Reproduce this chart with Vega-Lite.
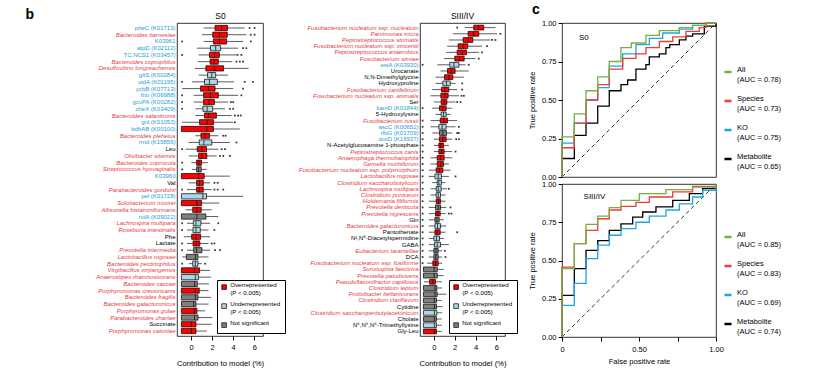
{
  "$schema": "https://vega.github.io/schema/vega-lite/v6.json",
  "background": "white",
  "padding": {"left": 24, "top": 2, "right": 5, "bottom": 5},
  "autosize": {"type": "pad"},
  "config": {
    "font": "Liberation Sans",
    "view": {"stroke": "black", "strokeWidth": 0.8},
    "axis": {"grid": false, "domain": false, "labelColor": "black", "tickColor": "black", "titleColor": "black", "titleFontWeight": "normal"},
    "legend": {"labelColor": "black"},
    "title": {"color": "black"}
  },
  "datasets": {
    "s0": [
      {"name":"pheC (K01713)","lo":1.19,"q1":2.28,"med":2.91,"q3":3.47,"hi":5.09,"sig":"Over","o1":5.56,"o2":6.03},
      {"name":"Bacteroides barnesiae","lo":1.03,"q1":2.06,"med":2.69,"q3":3.44,"hi":5.25,"sig":"Over","o1":5.66,"o2":6.03},
      {"name":"K03961","lo":1.19,"q1":2.13,"med":2.69,"q3":3.38,"hi":4.94,"sig":"Over","ol":-0.84,"o1":5.66},
      {"name":"atpD (K02112)","lo":0.56,"q1":1.84,"med":2.34,"q3":2.81,"hi":4.47,"sig":"Under","o1":4.94,"o2":5.25},
      {"name":"TC.NCS1 (K03457)","lo":0.72,"q1":1.75,"med":2.22,"q3":2.69,"hi":4.31,"sig":"Over","ol":-0.84,"o1":4.41,"o2":4.78},
      {"name":"Bacteroides coprophilus","lo":0.66,"q1":1.81,"med":2.19,"q3":2.59,"hi":3.91,"sig":"Over","o1":4.31,"o2":4.63,"o3":4.94},
      {"name":"Desulfovibrio longreachensis","lo":0.34,"q1":1.41,"med":2.22,"q3":3.09,"hi":5.47,"sig":"Over"},
      {"name":"gltS (K00284)","lo":0.72,"q1":1.56,"med":1.97,"q3":2.34,"hi":3.53,"sig":"Under"},
      {"name":"uidA (K01195)","lo":0.09,"q1":1.28,"med":1.75,"q3":2.5,"hi":4.09,"sig":"Under","ol":-0.84,"o1":5.09,"o2":5.88},
      {"name":"ycbB (K07713)","lo":-0.84,"q1":0.91,"med":1.66,"q3":2.28,"hi":4.0,"sig":"Over","o1":4.94},
      {"name":"fno (K06988)","lo":0.25,"q1":1.19,"med":1.84,"q3":2.59,"hi":4.47,"sig":"Over","ol":-0.84,"o1":4.78},
      {"name":"gcvPA (K00282)","lo":0.25,"q1":1.19,"med":1.72,"q3":2.22,"hi":3.53,"sig":"Over","ol":-0.84,"o1":3.78,"o2":4.0},
      {"name":"cheX (K03409)","lo":0.41,"q1":1.13,"med":1.53,"q3":2.06,"hi":3.22,"sig":"Under","ol":-0.84,"o1":3.69,"o2":4.0},
      {"name":"Bacteroides salanitronis","lo":0.41,"q1":1.28,"med":1.66,"q3":2.41,"hi":3.84,"sig":"Over","o1":4.16,"o2":4.47,"o3":4.72},
      {"name":"gnl (K01053)","lo":-0.84,"q1":0.81,"med":1.53,"q3":2.13,"hi":4.0,"sig":"Over","o1":4.16},
      {"name":"bdhAB (K00100)","lo":-0.91,"q1":-0.91,"med":1.5,"q3":2.13,"hi":4.63,"sig":"Over"},
      {"name":"Bacteroides plebeius","lo":0.41,"q1":0.94,"med":1.34,"q3":1.75,"hi":2.59,"sig":"Over","o1":3.06,"o2":3.28},
      {"name":"rmd (K15856)","lo":-0.22,"q1":0.78,"med":1.22,"q3":1.97,"hi":3.69,"sig":"Under","o1":4.31},
      {"name":"Leu","lo":-0.53,"q1":0.59,"med":1.03,"q3":1.47,"hi":2.59,"sig":"Over","ol":-0.84,"o1":2.91,"o2":3.22},
      {"name":"Olivibacter sitiensis","lo":-0.22,"q1":0.72,"med":1.03,"q3":1.5,"hi":2.44,"sig":"Over","o1":2.75,"o2":3.06,"o3":3.69},
      {"name":"Bacteroides coprocola","lo":0.03,"q1":0.53,"med":0.75,"q3":1.0,"hi":1.59,"sig":"Over","ol":-0.84},
      {"name":"Streptococcus hyovaginalis","lo":0.09,"q1":0.53,"med":0.72,"q3":0.97,"hi":1.5,"sig":"NS","ol":-0.84},
      {"name":"K03960","lo":-0.91,"q1":-0.91,"med":0.72,"q3":1.25,"hi":3.69,"sig":"Over"},
      {"name":"Val","lo":-0.22,"q1":0.53,"med":0.81,"q3":1.16,"hi":1.81,"sig":"Over","o1":2.22,"o2":2.53},
      {"name":"Parabacteroides gordonii","lo":-0.38,"q1":0.53,"med":0.78,"q3":1.16,"hi":1.97,"sig":"Over","ol":-0.84,"o1":2.22,"o2":2.53,"o3":3.06},
      {"name":"pel (K01728)","lo":-0.91,"q1":-0.91,"med":1.13,"q3":1.47,"hi":4.94,"sig":"Under"},
      {"name":"Solobacterium moorei","lo":-0.91,"q1":-0.91,"med":0.56,"q3":1.0,"hi":2.69,"sig":"Over"},
      {"name":"Allisonella histaminiformans","lo":-0.53,"q1":0.16,"med":0.56,"q3":0.97,"hi":1.97,"sig":"Over"},
      {"name":"ridA (K09022)","lo":-0.91,"q1":-0.91,"med":0.56,"q3":1.41,"hi":2.59,"sig":"NS"},
      {"name":"Lachnospira multipara","lo":-0.38,"q1":0.22,"med":0.47,"q3":0.94,"hi":1.81,"sig":"Under","ol":-0.84,"o1":2.59},
      {"name":"Roseburia intestinalis","lo":-0.38,"q1":0.19,"med":0.47,"q3":0.88,"hi":1.66,"sig":"Under","ol":-0.84,"o1":2.22},
      {"name":"Phe","lo":-0.69,"q1":0.06,"med":0.47,"q3":0.91,"hi":1.81,"sig":"Over"},
      {"name":"Lactate","lo":-0.38,"q1":0.19,"med":0.5,"q3":0.84,"hi":1.66,"sig":"Over","ol":-0.84,"o1":1.97,"o2":2.22},
      {"name":"Prevotella intermedia","lo":-0.38,"q1":0.25,"med":0.53,"q3":1.03,"hi":1.81,"sig":"NS","ol":-0.84,"o1":2.28,"o2":2.75},
      {"name":"Lactobacillus rogosae","lo":-0.84,"q1":-0.44,"med":0.41,"q3":0.66,"hi":1.66,"sig":"NS"},
      {"name":"Bacteroides pectinophilus","lo":-0.22,"q1":0.16,"med":0.41,"q3":0.66,"hi":1.03,"sig":"Under","ol":-0.84,"o1":1.34},
      {"name":"Virgibacillus xinjiangensis","lo":-0.91,"q1":-0.91,"med":0.34,"q3":0.81,"hi":1.81,"sig":"Over"},
      {"name":"Anaerostipes rhamnosivorans","lo":-0.91,"q1":-0.91,"med":0.41,"q3":0.7,"hi":1.9,"sig":"Under"},
      {"name":"Bacteroides caccae","lo":-0.91,"q1":-0.91,"med":0.34,"q3":0.6,"hi":1.7,"sig":"NS"},
      {"name":"Porphyromonas crevioricanis","lo":-0.91,"q1":-0.91,"med":0.41,"q3":0.78,"hi":1.66,"sig":"Over"},
      {"name":"Bacteroides fragilis","lo":-0.91,"q1":-0.91,"med":0.41,"q3":0.66,"hi":1.91,"sig":"NS"},
      {"name":"Bacteroides galacturonicus","lo":-0.91,"q1":-0.91,"med":0.25,"q3":0.47,"hi":1.66,"sig":"NS"},
      {"name":"Porphyromonas gulae","lo":-0.91,"q1":-0.91,"med":0.31,"q3":0.56,"hi":1.34,"sig":"Over"},
      {"name":"Parabacteroides chartae","lo":-0.91,"q1":-0.91,"med":0.34,"q3":0.66,"hi":2.03,"sig":"NS"},
      {"name":"Succinate","lo":-0.91,"q1":-0.91,"med":0.03,"q3":0.47,"hi":1.97,"sig":"Over"},
      {"name":"Porphyromonas catoniae","lo":-0.91,"q1":-0.91,"med":0.03,"q3":0.47,"hi":1.5,"sig":"Over"}
    ],
    "s3": [
      {"name":"Fusobacterium nucleatum ssp. nucleatum","lo":2.97,"q1":3.83,"med":4.31,"q3":4.79,"hi":5.91,"sig":"Over","o1":2.24},
      {"name":"Parvimonas micra","lo":1.82,"q1":3.29,"med":3.8,"q3":4.31,"hi":6.07,"sig":"Over","o1":6.39},
      {"name":"Peptostreptococcus stomatis","lo":1.44,"q1":2.81,"med":3.29,"q3":3.74,"hi":5.43,"sig":"Over","o1":5.59,"o2":5.91},
      {"name":"Fusobacterium nucleatum ssp. vincentii","lo":1.28,"q1":2.33,"med":2.81,"q3":3.26,"hi":4.63,"sig":"Over","o1":5.11},
      {"name":"Peptostreptococcus anaerobius","lo":1.18,"q1":2.24,"med":2.72,"q3":3.13,"hi":4.31,"sig":"Over","o1":4.63},
      {"name":"Fusobacterium simiae","lo":0.96,"q1":2.01,"med":2.46,"q3":2.91,"hi":3.99,"sig":"Over","o1":4.31},
      {"name":"estA (K03930)","lo":0.32,"q1":1.53,"med":1.92,"q3":2.4,"hi":3.04,"sig":"Under","ol":-1.08,"o1":3.35},
      {"name":"Urocanate","lo":0.64,"q1":1.31,"med":1.66,"q3":2.04,"hi":3.35,"sig":"Over"},
      {"name":"N,N-Dimethylglycine","lo":0.16,"q1":1.02,"med":1.44,"q3":1.82,"hi":2.88,"sig":"Over"},
      {"name":"Hydroxyproline","lo":0.16,"q1":0.86,"med":1.21,"q3":1.57,"hi":2.08,"sig":"Under","o1":2.72},
      {"name":"Fusobacterium canifelinum","lo":-0.16,"q1":0.73,"med":1.05,"q3":1.44,"hi":2.24,"sig":"Over","o1":2.72},
      {"name":"Fusobacterium nucleatum ssp. animalis","lo":-0.32,"q1":0.67,"med":1.05,"q3":1.37,"hi":2.4,"sig":"Over","o1":2.65,"o2":2.88},
      {"name":"Ser","lo":0.0,"q1":0.7,"med":0.99,"q3":1.25,"hi":2.08,"sig":"Over","o1":2.24,"o2":2.56},
      {"name":"kamD (K01844)","lo":-0.16,"q1":0.54,"med":0.86,"q3":1.18,"hi":1.76,"sig":"Over","ol":-1.08},
      {"name":"5-Hydroxylysine","lo":0.16,"q1":0.7,"med":0.93,"q3":1.18,"hi":1.6,"sig":"Under"},
      {"name":"Fusobacterium russii","lo":-0.32,"q1":0.61,"med":0.96,"q3":1.31,"hi":2.24,"sig":"Over","ol":-1.08},
      {"name":"ascC (K00652)","lo":-0.32,"q1":0.48,"med":0.8,"q3":1.18,"hi":2.08,"sig":"Under","ol":-1.08,"o1":2.4},
      {"name":"rfbG (K01709)","lo":-0.16,"q1":0.54,"med":0.86,"q3":1.21,"hi":1.76,"sig":"NS","ol":-1.08,"o1":2.24,"o2":2.4},
      {"name":"doxD (K16937)","lo":0.0,"q1":0.54,"med":0.86,"q3":1.18,"hi":1.76,"sig":"Over","ol":-1.08,"o1":2.14,"o2":2.4},
      {"name":"N-Acetylglucosamine 1-phosphate","lo":0.0,"q1":0.48,"med":0.67,"q3":0.93,"hi":1.44,"sig":"Over","ol":-1.08},
      {"name":"Peptostreptococcus canis","lo":0.0,"q1":0.48,"med":0.73,"q3":0.99,"hi":1.76,"sig":"Over","ol":-1.08,"o1":2.08},
      {"name":"Anaerophaga thermohalophila","lo":-0.32,"q1":0.32,"med":0.64,"q3":0.99,"hi":1.76,"sig":"Over","ol":-1.08},
      {"name":"Gemella morbillorum","lo":-0.32,"q1":0.32,"med":0.64,"q3":0.93,"hi":1.44,"sig":"Over","ol":-1.08},
      {"name":"Fusobacterium nucleatum ssp. polymorphum","lo":-0.48,"q1":0.22,"med":0.54,"q3":0.86,"hi":1.6,"sig":"Over","ol":-1.08},
      {"name":"Lactobacillus rogosae","lo":-0.48,"q1":0.1,"med":0.42,"q3":0.73,"hi":1.44,"sig":"Under","ol":-1.08,"o1":2.08},
      {"name":"Clostridium saccharobutylicum","lo":-0.16,"q1":0.32,"med":0.48,"q3":0.73,"hi":1.12,"sig":"Under","ol":-1.08},
      {"name":"Lachnospira multipara","lo":-0.32,"q1":0.22,"med":0.42,"q3":0.7,"hi":1.28,"sig":"Under","ol":-1.08,"o1":1.44},
      {"name":"Clostridium puniceum","lo":-0.32,"q1":0.22,"med":0.42,"q3":0.64,"hi":1.12,"sig":"Under","ol":-1.08},
      {"name":"Holdemania filiformis","lo":-0.48,"q1":0.22,"med":0.42,"q3":0.64,"hi":1.12,"sig":"Over","ol":-1.08},
      {"name":"Prevotella denticola","lo":-0.48,"q1":0.16,"med":0.42,"q3":0.64,"hi":1.18,"sig":"NS","ol":-1.08,"o1":1.6},
      {"name":"Prevotella nigrescens","lo":-0.48,"q1":0.16,"med":0.38,"q3":0.61,"hi":1.12,"sig":"Over","ol":-1.08,"o1":1.44,"o2":1.69},
      {"name":"Gln","lo":-0.48,"q1":0.1,"med":0.29,"q3":0.51,"hi":0.96,"sig":"NS","ol":-1.08},
      {"name":"Bacteroides galacturonicus","lo":-0.48,"q1":0.1,"med":0.35,"q3":0.64,"hi":1.18,"sig":"Under","ol":-1.08},
      {"name":"Pantothenate","lo":-0.48,"q1":0.1,"med":0.32,"q3":0.61,"hi":1.12,"sig":"Over","ol":-1.08,"o1":2.24},
      {"name":"N¹,N⁸-Diacetylspermidine","lo":-0.48,"q1":0.0,"med":0.26,"q3":0.54,"hi":0.96,"sig":"Under","ol":-1.08},
      {"name":"GABA","lo":-0.48,"q1":0.06,"med":0.32,"q3":0.64,"hi":1.44,"sig":"Under","ol":-1.08},
      {"name":"Eubacterium tarantellae","lo":-0.48,"q1":0.0,"med":0.22,"q3":0.42,"hi":0.8,"sig":"NS","ol":-1.08,"o1":1.05},
      {"name":"DCA","lo":-0.48,"q1":0.0,"med":0.19,"q3":0.42,"hi":0.8,"sig":"NS","ol":-1.08,"o1":1.12},
      {"name":"Fusobacterium nucleatum ssp. fusiforme","lo":-0.64,"q1":-0.1,"med":0.16,"q3":0.42,"hi":0.8,"sig":"Over","ol":-1.08},
      {"name":"Sunxiuqinia faeciviva","lo":-1.0,"q1":-1.0,"med":0.03,"q3":0.33,"hi":0.95,"sig":"NS"},
      {"name":"Prevotella paludivivens","lo":-1.0,"q1":-1.0,"med":0.03,"q3":0.33,"hi":0.95,"sig":"NS"},
      {"name":"Pseudoflavonifractor capillosus","lo":-0.96,"q1":-0.41,"med":-0.1,"q3":0.15,"hi":0.77,"sig":"Over"},
      {"name":"Clostridium leptum","lo":-1.0,"q1":-1.0,"med":0.1,"q3":0.29,"hi":0.8,"sig":"NS"},
      {"name":"Prolixibacter bellariivorans","lo":-1.0,"q1":-1.0,"med":0.1,"q3":0.32,"hi":1.2,"sig":"NS"},
      {"name":"Clostridium clariflavum","lo":-1.0,"q1":-1.0,"med":0.05,"q3":0.25,"hi":0.75,"sig":"NS"},
      {"name":"Cytidine","lo":-1.0,"q1":-1.0,"med":0.05,"q3":0.25,"hi":0.86,"sig":"NS"},
      {"name":"Clostridium saccharoperbutylacetonicum","lo":-1.0,"q1":-1.0,"med":0.05,"q3":0.29,"hi":0.8,"sig":"Under"},
      {"name":"Cholate","lo":-1.0,"q1":-1.0,"med":0.05,"q3":0.25,"hi":0.75,"sig":"NS"},
      {"name":"N⁶,N⁶,N⁶-Trimethyllysine","lo":-1.0,"q1":-1.0,"med":0.05,"q3":0.25,"hi":0.75,"sig":"Under"},
      {"name":"Gly-Leu","lo":-1.0,"q1":-1.0,"med":0.05,"q3":0.25,"hi":0.75,"sig":"Over"}
    ],
    "roc0": [
      {"s":"Metabolite","fpr":0,"tpr":0},{"s":"Metabolite","fpr":0,"tpr":0.12},{"s":"Metabolite","fpr":0.08,"tpr":0.27},{"s":"Metabolite","fpr":0.156,"tpr":0.35},{"s":"Metabolite","fpr":0.232,"tpr":0.46},{"s":"Metabolite","fpr":0.307,"tpr":0.56},{"s":"Metabolite","fpr":0.383,"tpr":0.6},{"s":"Metabolite","fpr":0.426,"tpr":0.63},{"s":"Metabolite","fpr":0.48,"tpr":0.7},{"s":"Metabolite","fpr":0.545,"tpr":0.73},{"s":"Metabolite","fpr":0.567,"tpr":0.78},{"s":"Metabolite","fpr":0.632,"tpr":0.8},{"s":"Metabolite","fpr":0.675,"tpr":0.84},{"s":"Metabolite","fpr":0.7,"tpr":0.86},{"s":"Metabolite","fpr":0.762,"tpr":0.89},{"s":"Metabolite","fpr":0.805,"tpr":0.915},{"s":"Metabolite","fpr":0.848,"tpr":0.93},{"s":"Metabolite","fpr":0.924,"tpr":0.98},{"s":"Metabolite","fpr":1,"tpr":1},
      {"s":"KO","fpr":0,"tpr":0},{"s":"KO","fpr":0,"tpr":0.22},{"s":"KO","fpr":0.08,"tpr":0.35},{"s":"KO","fpr":0.156,"tpr":0.5},{"s":"KO","fpr":0.232,"tpr":0.58},{"s":"KO","fpr":0.307,"tpr":0.72},{"s":"KO","fpr":0.394,"tpr":0.8},{"s":"KO","fpr":0.48,"tpr":0.86},{"s":"KO","fpr":0.567,"tpr":0.9},{"s":"KO","fpr":0.654,"tpr":0.935},{"s":"KO","fpr":0.762,"tpr":0.96},{"s":"KO","fpr":0.848,"tpr":0.985},{"s":"KO","fpr":0.935,"tpr":1},{"s":"KO","fpr":1,"tpr":1},
      {"s":"Species","fpr":0,"tpr":0},{"s":"Species","fpr":0,"tpr":0.19},{"s":"Species","fpr":0.08,"tpr":0.35},{"s":"Species","fpr":0.156,"tpr":0.5},{"s":"Species","fpr":0.232,"tpr":0.6},{"s":"Species","fpr":0.307,"tpr":0.7},{"s":"Species","fpr":0.394,"tpr":0.77},{"s":"Species","fpr":0.48,"tpr":0.8},{"s":"Species","fpr":0.545,"tpr":0.84},{"s":"Species","fpr":0.632,"tpr":0.88},{"s":"Species","fpr":0.719,"tpr":0.91},{"s":"Species","fpr":0.805,"tpr":0.945},{"s":"Species","fpr":0.891,"tpr":0.97},{"s":"Species","fpr":0.935,"tpr":1},{"s":"Species","fpr":1,"tpr":1},
      {"s":"All","fpr":0,"tpr":0},{"s":"All","fpr":0,"tpr":0.26},{"s":"All","fpr":0.08,"tpr":0.41},{"s":"All","fpr":0.156,"tpr":0.56},{"s":"All","fpr":0.232,"tpr":0.65},{"s":"All","fpr":0.307,"tpr":0.75},{"s":"All","fpr":0.383,"tpr":0.84},{"s":"All","fpr":0.45,"tpr":0.87},{"s":"All","fpr":0.545,"tpr":0.92},{"s":"All","fpr":0.632,"tpr":0.95},{"s":"All","fpr":0.762,"tpr":0.97},{"s":"All","fpr":0.848,"tpr":0.985},{"s":"All","fpr":0.935,"tpr":1},{"s":"All","fpr":1,"tpr":1}
    ],
    "roc3": [
      {"s":"Metabolite","fpr":0,"tpr":0},{"s":"Metabolite","fpr":0,"tpr":0.272},{"s":"Metabolite","fpr":0.08,"tpr":0.447},{"s":"Metabolite","fpr":0.156,"tpr":0.566},{"s":"Metabolite","fpr":0.232,"tpr":0.63},{"s":"Metabolite","fpr":0.307,"tpr":0.697},{"s":"Metabolite","fpr":0.383,"tpr":0.74},{"s":"Metabolite","fpr":0.459,"tpr":0.784},{"s":"Metabolite","fpr":0.524,"tpr":0.817},{"s":"Metabolite","fpr":0.61,"tpr":0.85},{"s":"Metabolite","fpr":0.719,"tpr":0.893},{"s":"Metabolite","fpr":0.827,"tpr":0.937},{"s":"Metabolite","fpr":0.913,"tpr":0.97},{"s":"Metabolite","fpr":1,"tpr":1},
      {"s":"KO","fpr":0,"tpr":0},{"s":"KO","fpr":0,"tpr":0.207},{"s":"KO","fpr":0.08,"tpr":0.35},{"s":"KO","fpr":0.156,"tpr":0.512},{"s":"KO","fpr":0.232,"tpr":0.6},{"s":"KO","fpr":0.307,"tpr":0.665},{"s":"KO","fpr":0.383,"tpr":0.708},{"s":"KO","fpr":0.48,"tpr":0.75},{"s":"KO","fpr":0.567,"tpr":0.79},{"s":"KO","fpr":0.675,"tpr":0.83},{"s":"KO","fpr":0.762,"tpr":0.87},{"s":"KO","fpr":0.848,"tpr":0.915},{"s":"KO","fpr":0.913,"tpr":0.958},{"s":"KO","fpr":1,"tpr":1},
      {"s":"Species","fpr":0,"tpr":0},{"s":"Species","fpr":0,"tpr":0.457},{"s":"Species","fpr":0.08,"tpr":0.61},{"s":"Species","fpr":0.156,"tpr":0.697},{"s":"Species","fpr":0.232,"tpr":0.773},{"s":"Species","fpr":0.307,"tpr":0.83},{"s":"Species","fpr":0.383,"tpr":0.854},{"s":"Species","fpr":0.48,"tpr":0.88},{"s":"Species","fpr":0.567,"tpr":0.915},{"s":"Species","fpr":0.719,"tpr":0.948},{"s":"Species","fpr":0.848,"tpr":0.985},{"s":"Species","fpr":1,"tpr":1},
      {"s":"All","fpr":0,"tpr":0},{"s":"All","fpr":0,"tpr":0.447},{"s":"All","fpr":0.08,"tpr":0.61},{"s":"All","fpr":0.156,"tpr":0.736},{"s":"All","fpr":0.232,"tpr":0.79},{"s":"All","fpr":0.307,"tpr":0.845},{"s":"All","fpr":0.383,"tpr":0.893},{"s":"All","fpr":0.502,"tpr":0.937},{"s":"All","fpr":0.675,"tpr":0.963},{"s":"All","fpr":0.848,"tpr":0.98},{"s":"All","fpr":1,"tpr":1}
    ],
    "diag": [{"fpr":0,"tpr":0,"fpr2":1,"tpr2":1}],
    "lab0": [{"fpr":0.11,"tpr":0.905,"t":"S0"}],
    "lab3": [{"fpr":0.14,"tpr":0.915,"t":"SIII/IV"}]
  },
  "spacing": 9,
  "resolve": {"scale": {"color": "independent", "x": "independent", "y": "independent"}, "legend": {"color": "independent"}},
  "hconcat": [
    {
      "spacing": 11,
      "resolve": {"scale": {"color": "independent", "x": "independent", "y": "independent"}, "legend": {"color": "independent"}},
      "hconcat": [
        {
          "width": 86, "height": 313,
          "data": {"name": "s0"},
          "resolve": {"axis": {"x": "independent"}},
          "encoding": {
            "y": {"field": "name", "type": "nominal", "sort": null,
              "scale": {"paddingInner": 0.22, "paddingOuter": 0.35},
              "axis": {"ticks": false, "labelPadding": 2, "labelFontSize": 6, "labelLimit": 300, "labelOverlap": false,
                "title": "b", "titleAngle": 0, "titleX": -152, "titleY": -5, "titleFontSize": 14, "titleFontWeight": "bold", "titleAlign": "left", "titleBaseline": "alphabetic",
                "labelColor": {"expr": "indexof(['Leu','Val','Phe','Lactate','Succinate'], datum.value) >= 0 ? 'black' : ((indexof(datum.value, '(K') >= 0 || indexof(datum.value, 'K0') == 0) ? '#1f9bd8' : '#e8383d')"},
                "labelFontStyle": {"expr": "(indexof(['Leu','Val','Phe','Lactate','Succinate'], datum.value) >= 0 || indexof(datum.value, '(K') >= 0 || indexof(datum.value, 'K0') == 0) ? 'normal' : 'italic'"}}}
          },
          "layer": [
            {"mark": {"type": "rule", "color": "#333333", "strokeWidth": 0.8},
              "encoding": {"x": {"field": "lo", "type": "quantitative", "scale": {"domain": [-1.33, 6.83], "nice": false},
                "axis": {"values": [0, 2, 4, 6], "format": "d", "tickSize": 4, "labelPadding": 3, "labelFontSize": 7.5, "labelOverlap": false, "labelFlush": false, "title": "Contribution to model (%)", "titleFontSize": 7.7, "titlePadding": 9}},
                "x2": {"field": "hi"}}},
            {"mark": {"type": "bar", "stroke": "black", "strokeWidth": 0.7},
              "encoding": {"x": {"field": "q1", "type": "quantitative",
                "axis": {"orient": "top", "labels": false, "ticks": false, "domain": false, "title": "S0", "titleFontSize": 8.5, "titlePadding": 3}},
                "x2": {"field": "q3"},
                "color": {"field": "sig", "type": "nominal",
                  "scale": {"domain": ["Over", "Under", "NS"], "range": ["#ff0000", "#add8e6", "#808080"]},
                  "legend": {"orient": "none", "legendX": 40, "legendY": 257, "title": null, "symbolType": "square", "symbolSize": 22, "symbolStrokeColor": "black", "symbolStrokeWidth": 0.7, "labelFontSize": 6.2, "labelBaseline": "alphabetic",
                    "labelExpr": "datum.value == 'Over' ? ['Overrepresented', '(P < 0.005)'] : datum.value == 'Under' ? ['Underrepresented', '(P < 0.005)'] : 'Not significant'",
                    "fillColor": "white", "strokeColor": "black", "padding": 4, "rowPadding": 4, "labelOffset": 3}}}},
            {"mark": {"type": "tick", "color": "black", "thickness": 1, "size": 5, "orient": "vertical"},
              "encoding": {"x": {"field": "med", "type": "quantitative", "axis": null}}},
            {"transform": [{"fold": ["ol", "o1", "o2", "o3"], "as": ["k", "ov"]}, {"filter": "isValid(datum.ov)"}],
              "mark": {"type": "square", "size": 3, "color": "#333333", "opacity": 1},
              "encoding": {"x": {"field": "ov", "type": "quantitative", "axis": null}}}
          ]
        },
        {
          "width": 85, "height": 313,
          "title": {"text": "SIII/IV", "fontSize": 8.5, "fontWeight": "normal", "offset": 3},
          "data": {"name": "s3"},
          "encoding": {
            "y": {"field": "name", "type": "nominal", "sort": null,
              "scale": {"paddingInner": 0.22, "paddingOuter": 0.35},
              "axis": {"ticks": false, "labelPadding": 2, "labelFontSize": 6, "labelLimit": 300, "labelOverlap": false, "title": null,
                "labelColor": {"expr": "indexof(['Urocanate','N,N-Dimethylglycine','Hydroxyproline','Ser','5-Hydroxylysine','N-Acetylglucosamine 1-phosphate','Gln','Pantothenate','N¹,N⁸-Diacetylspermidine','GABA','DCA','Cytidine','Cholate','N⁶,N⁶,N⁶-Trimethyllysine','Gly-Leu'], datum.value) >= 0 ? 'black' : (indexof(datum.value, '(K') >= 0 ? '#1f9bd8' : '#e8383d')"},
                "labelFontStyle": {"expr": "(indexof(['Urocanate','N,N-Dimethylglycine','Hydroxyproline','Ser','5-Hydroxylysine','N-Acetylglucosamine 1-phosphate','Gln','Pantothenate','N¹,N⁸-Diacetylspermidine','GABA','DCA','Cytidine','Cholate','N⁶,N⁶,N⁶-Trimethyllysine','Gly-Leu'], datum.value) >= 0 || indexof(datum.value, '(K') >= 0) ? 'normal' : 'italic'"}}}
          },
          "layer": [
            {"mark": {"type": "rule", "color": "#333333", "strokeWidth": 0.8},
              "encoding": {"x": {"field": "lo", "type": "quantitative", "scale": {"domain": [-1.33, 6.83], "nice": false},
                "axis": {"values": [0, 2, 4, 6], "format": "d", "tickSize": 4, "labelPadding": 3, "labelFontSize": 7.5, "labelOverlap": false, "labelFlush": false, "title": "Contribution to model (%)", "titleFontSize": 7.7, "titlePadding": 9}},
                "x2": {"field": "hi"}}},
            {"mark": {"type": "bar", "stroke": "black", "strokeWidth": 0.7},
              "encoding": {"x": {"field": "q1", "type": "quantitative",
                "axis": {"values": [0, 2, 4, 6], "format": "d", "tickSize": 4, "labelPadding": 3, "labelFontSize": 7.5, "labelOverlap": false, "labelFlush": false, "title": "Contribution to model (%)", "titleFontSize": 7.7, "titlePadding": 9}},
                "x2": {"field": "q3"},
                "color": {"field": "sig", "type": "nominal",
                  "scale": {"domain": ["Over", "Under", "NS"], "range": ["#ff0000", "#add8e6", "#808080"]},
                  "legend": {"orient": "none", "legendX": 29, "legendY": 257, "title": null, "symbolType": "square", "symbolSize": 22, "symbolStrokeColor": "black", "symbolStrokeWidth": 0.7, "labelFontSize": 6.2, "labelBaseline": "alphabetic",
                    "labelExpr": "datum.value == 'Over' ? ['Overrepresented', '(P < 0.005)'] : datum.value == 'Under' ? ['Underrepresented', '(P < 0.005)'] : 'Not significant'",
                    "fillColor": "white", "strokeColor": "black", "padding": 4, "rowPadding": 4, "labelOffset": 3}}}},
            {"mark": {"type": "tick", "color": "black", "thickness": 1, "size": 4.6, "orient": "vertical"},
              "encoding": {"x": {"field": "med", "type": "quantitative",
                "axis": {"values": [0, 2, 4, 6], "format": "d", "tickSize": 4, "labelPadding": 3, "labelFontSize": 7.5, "labelOverlap": false, "labelFlush": false, "title": "Contribution to model (%)", "titleFontSize": 7.7, "titlePadding": 9}}}},
            {"transform": [{"fold": ["ol", "o1", "o2", "o3"], "as": ["k", "ov"]}, {"filter": "isValid(datum.ov)"}],
              "mark": {"type": "square", "size": 3, "color": "#333333", "opacity": 1},
              "encoding": {"x": {"field": "ov", "type": "quantitative",
                "axis": {"values": [0, 2, 4, 6], "format": "d", "tickSize": 4, "labelPadding": 3, "labelFontSize": 7.5, "labelOverlap": false, "labelFlush": false, "title": "Contribution to model (%)", "titleFontSize": 7.7, "titlePadding": 9}}}}
          ]
        }
      ]
    },
    {
      "spacing": -2,
      "resolve": {"scale": {"color": "independent", "x": "independent", "y": "independent"}, "legend": {"color": "independent"}},
      "vconcat": [
        {
          "width": 154, "height": 154,
          "title": {"text": "c", "anchor": "start", "frame": "bounds", "fontSize": 14, "fontWeight": "bold", "offset": 2, "dx": 4},
          "encoding": {
            "x": {"field": "fpr", "type": "quantitative", "scale": {"domain": [0, 1], "nice": false}, "axis": null},
            "y": {"field": "tpr", "type": "quantitative", "scale": {"domain": [0, 1], "nice": false},
              "axis": {"orient": "left", "labels": true, "values": [0, 0.25, 0.5, 0.75, 1], "format": ".2f", "labelColor": "black", "labelOverlap": false, "title": "True positive rate", "tickSize": 4, "labelFontSize": 7.5, "titleFontSize": 7.5, "labelPadding": 2, "titlePadding": 4, "minExtent": 22, "maxExtent": 22}}
          },
          "layer": [
            {"data": {"name": "diag"}, "mark": {"type": "rule", "strokeDash": [4, 3], "color": "black", "strokeWidth": 0.8},
              "encoding": {"x2": {"field": "fpr2"}, "y2": {"field": "tpr2"}}},
            {"data": {"name": "roc0"}, "mark": {"type": "line", "interpolate": "step-after", "strokeWidth": 1.3},
              "encoding": {"color": {"field": "s", "type": "nominal",
                "scale": {"domain": ["All", "Species", "KO", "Metabolite"], "range": ["#76b043", "#ee3b3b", "#1ba8e0", "#000000"]},
                "legend": {"orient": "none", "legendX": 161, "legendY": 44, "title": null, "symbolType": "stroke", "symbolStrokeWidth": 2.5, "symbolSize": 50, "labelFontSize": 7.5, "labelBaseline": "alphabetic", "rowPadding": 12,
                  "labelExpr": "datum.value == 'All' ? ['All', '(AUC = 0.78)'] : datum.value == 'Species' ? ['Species', '(AUC = 0.73)'] : datum.value == 'KO' ? ['KO', '(AUC = 0.75)'] : ['Metabolite', '(AUC = 0.65)']"}}}},
            {"data": {"name": "lab0"}, "mark": {"type": "text", "align": "left", "baseline": "middle", "fontSize": 8, "color": "black"},
              "encoding": {"text": {"field": "t"}}}
          ]
        },
        {
          "width": 154, "height": 153,
          "encoding": {
            "x": {"field": "fpr", "type": "quantitative", "scale": {"domain": [0, 1], "nice": false},
              "axis": {"values": [0, 0.25, 0.5, 0.75, 1], "format": ".2f", "labelExpr": "datum.value == 0 ? '0' : (datum.value == 0.5 || datum.value == 1) ? datum.label : ''", "labelOverlap": false, "labelFlush": false, "title": "False positive rate", "tickSize": 4, "labelFontSize": 7.5, "titleFontSize": 7.6, "labelPadding": 4, "titlePadding": 5}},
            "y": {"field": "tpr", "type": "quantitative", "scale": {"domain": [0, 1], "nice": false},
              "axis": {"orient": "left", "labels": true, "values": [0, 0.25, 0.5, 0.75, 1], "format": ".2f", "labelColor": "black", "labelOverlap": false, "title": "True positive rate", "tickSize": 4, "labelFontSize": 7.5, "titleFontSize": 7.5, "labelPadding": 2, "titlePadding": 4, "minExtent": 22, "maxExtent": 22}}
          },
          "layer": [
            {"data": {"name": "diag"}, "mark": {"type": "rule", "strokeDash": [4, 3], "color": "black", "strokeWidth": 0.8},
              "encoding": {"x2": {"field": "fpr2"}, "y2": {"field": "tpr2"}}},
            {"data": {"name": "roc3"}, "mark": {"type": "line", "interpolate": "step-after", "strokeWidth": 1.3},
              "encoding": {"color": {"field": "s", "type": "nominal",
                "scale": {"domain": ["All", "Species", "KO", "Metabolite"], "range": ["#76b043", "#ee3b3b", "#1ba8e0", "#000000"]},
                "legend": {"orient": "none", "legendX": 161, "legendY": 48, "title": null, "symbolType": "stroke", "symbolStrokeWidth": 2.5, "symbolSize": 50, "labelFontSize": 7.5, "labelBaseline": "alphabetic", "rowPadding": 12,
                  "labelExpr": "datum.value == 'All' ? ['All', '(AUC = 0.85)'] : datum.value == 'Species' ? ['Species', '(AUC = 0.83)'] : datum.value == 'KO' ? ['KO', '(AUC = 0.69)'] : ['Metabolite', '(AUC = 0.74)']"}}}},
            {"data": {"name": "lab3"}, "mark": {"type": "text", "align": "left", "baseline": "middle", "fontSize": 8, "color": "black"},
              "encoding": {"text": {"field": "t"}}}
          ]
        }
      ]
    }
  ]
}
